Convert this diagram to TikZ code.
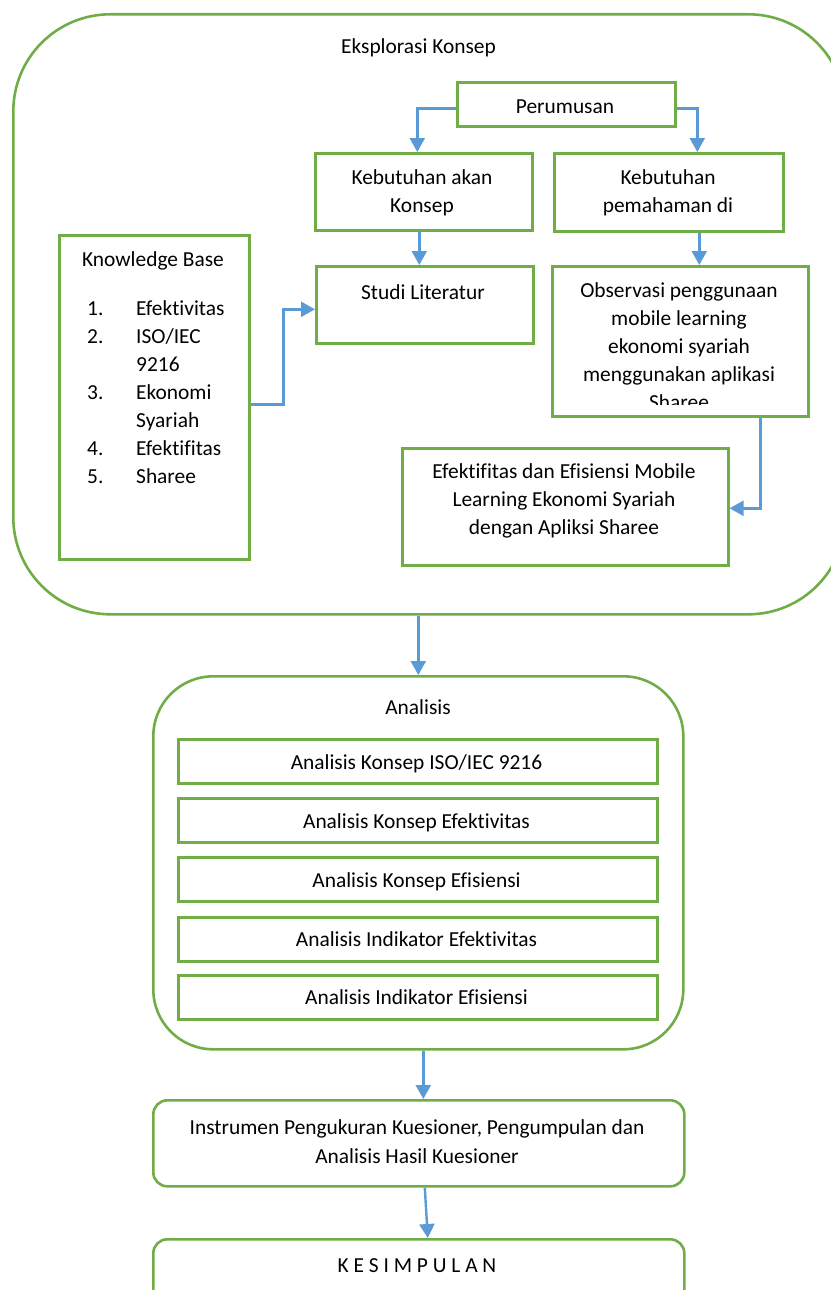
\documentclass[tikz,border=0pt]{standalone}
\usepackage{fontspec}
\setmainfont[Ligatures=NoCommon]{Carlito}
\usetikzlibrary{arrows.meta}
\definecolor{grn}{HTML}{70AD47}
\definecolor{blu}{HTML}{5B9BD5}
\setlength{\tabcolsep}{0pt}
\begin{document}
\begin{tikzpicture}[x=1pt,y=-1pt,
  box/.style={draw=grn, line width=2.6pt, rectangle, inner sep=0pt, anchor=north west},
  arr/.style={draw=blu, line width=2.4pt, -{Triangle[length=14pt,width=15pt]}},
  ttop/.style={inner sep=0pt, anchor=base, font=\fontsize{21.4}{28}\selectfont},
  tlow/.style={inner sep=0pt, anchor=base, font=\fontsize{21.4}{29}\selectfont},
]
\useasboundingbox (0,0) rectangle (830,1290);

% Eksplorasi Konsep
\node[box, rounded corners=97pt, minimum width=832pt, minimum height=600pt] (eks) at (12,13) {};
\node[ttop] (ekst) at (418.5,53.5) {Eksplorasi Konsep};

\node[box, minimum width=218pt, minimum height=44pt] (perum) at (456,81) {};
\node[ttop] (perumt) at (565,113) {Perumusan};

\node[box, minimum width=217pt, minimum height=77pt] (keb1) at (314,152) {};
\node[ttop] (keb1t) at (422,184) {\begin{tabular}[t]{c}Kebutuhan akan\\Konsep\end{tabular}};

\node[box, minimum width=229pt, minimum height=78pt] (keb2) at (553,152) {};
\node[ttop] (keb2t) at (668,184) {\begin{tabular}[t]{c}Kebutuhan\\pemahaman di\end{tabular}};

\node[box, minimum width=190pt, minimum height=324pt] (kb) at (58,234) {};
\node[ttop] (kbt) at (153,266) {Knowledge Base};
\node[ttop, anchor=base west] (kblist) at (87,315) {\begin{tabular}[t]{p{49pt}l}1.&Efektivitas\\2.&ISO/IEC\\&9216\\3.&Ekonomi\\&Syariah\\4.&Efektifitas\\5.&Sharee\end{tabular}};

\node[box, minimum width=217pt, minimum height=77pt] (studi) at (315,265) {};
\node[ttop] (studit) at (423,299) {Studi Literatur};

\node[box, minimum width=256pt, minimum height=150pt] (obs) at (551,265) {};
\begin{scope}
\clip (553,267) rectangle (805,404);
\node[ttop] (obst) at (679,297) {\begin{tabular}[t]{c}Observasi penggunaan\\mobile learning\\ekonomi syariah\\menggunakan aplikasi\\Sharee\end{tabular}};
\end{scope}

\node[box, minimum width=326pt, minimum height=117pt] (eff) at (401,447) {};
\node[ttop] (efft) at (564,478) {\begin{tabular}[t]{c}Efektifitas dan Efisiensi Mobile\\Learning Ekonomi Syariah\\dengan Apliksi Sharee\end{tabular}};

% Analisis
\node[box, rounded corners=60pt, minimum width=530pt, minimum height=373pt] (ana) at (152,675) {};
\node[tlow] (anat) at (418,714) {Analisis};
\node[box, minimum width=479pt, minimum height=44pt] (a1) at (177,738) {};
\node[tlow] (a1t) at (416.5,769) {Analisis Konsep ISO/IEC 9216};
\node[box, minimum width=479pt, minimum height=44pt] (a2) at (177,797) {};
\node[tlow] (a2t) at (416.5,828) {Analisis Konsep Efektivitas};
\node[box, minimum width=479pt, minimum height=44pt] (a3) at (177,856) {};
\node[tlow] (a3t) at (416.5,887) {Analisis Konsep Efisiensi};
\node[box, minimum width=479pt, minimum height=44pt] (a4) at (177,916) {};
\node[tlow] (a4t) at (416.5,946) {Analisis Indikator Efektivitas};
\node[box, minimum width=479pt, minimum height=44pt] (a5) at (177,974) {};
\node[tlow] (a5t) at (416.5,1004) {Analisis Indikator Efisiensi};

\node[box, rounded corners=14pt, minimum width=531pt, minimum height=86pt] (ins) at (152,1099) {};
\node[tlow] (inst) at (417,1134) {\begin{tabular}[t]{c}Instrumen Pengukuran Kuesioner, Pengumpulan dan\\Analisis Hasil Kuesioner\end{tabular}};

\node[box, rounded corners=14pt, minimum width=531pt, minimum height=80pt] (kes) at (152,1238) {};
\node[tlow] (kest) at (417,1272) {K E S I M P U L A N};

% connectors
\draw[arr] ([yshift=-4pt]perum.west) -| ([xshift=-6.5pt]keb1.north);
\draw[arr] ([yshift=-4pt]perum.east) -| ([xshift=28.5pt]keb2.north);
\draw[arr] ([xshift=-4.5pt]keb1.south) -- ([xshift=-4.5pt]keb1.south |- studi.north);
\draw[arr] ([xshift=30.5pt]keb2.south) -- ([xshift=30.5pt]keb2.south |- obs.north);
\draw[arr] ([yshift=-7pt]kb.east) -- ++(33,0) |- ([yshift=-4.5pt]studi.west);
\draw[arr] ([xshift=80pt]obs.south) |- ([yshift=-1.5pt]eff.east);
\draw[arr] (eks.south -| ana.north) -- (ana.north);
\draw[arr] ([xshift=5pt]ana.south) -- ([xshift=5pt]ana.south |- ins.north);
\draw[arr] ([xshift=6pt]ins.south) -- ([xshift=9pt]kes.north);
\end{tikzpicture}
\end{document}
